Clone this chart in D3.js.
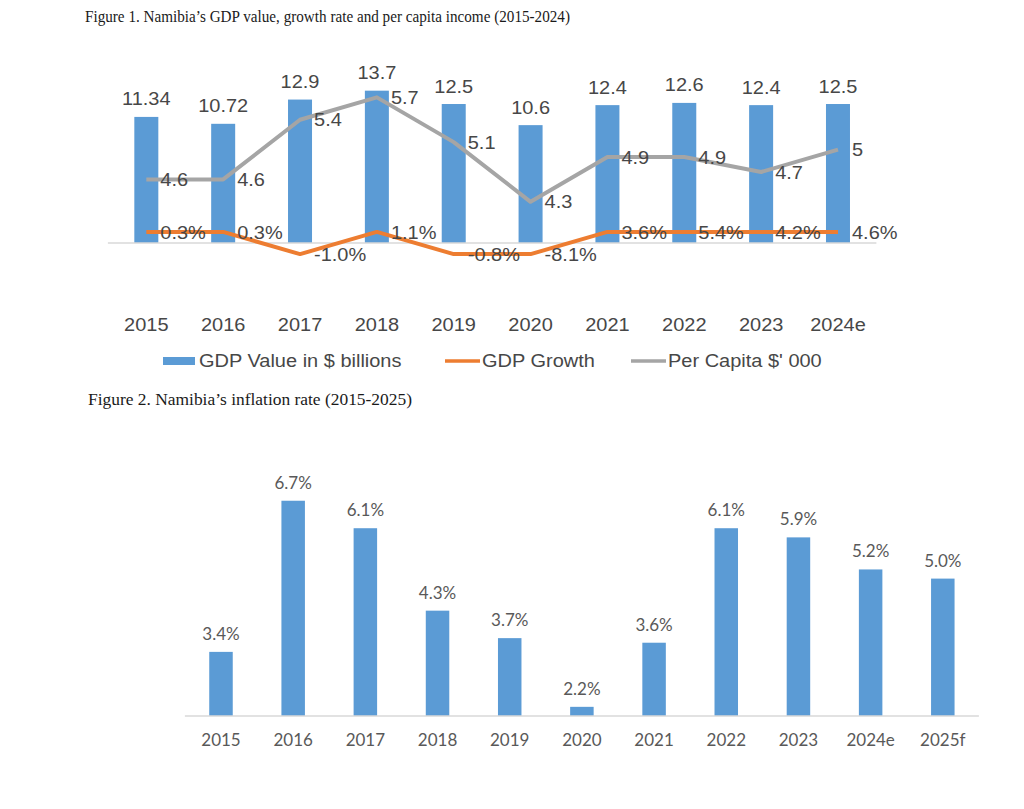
<!DOCTYPE html>
<html>
<head>
<meta charset="utf-8">
<script src="https://cdn.jsdelivr.net/npm/d3@7"></script>
<style>
  body { margin: 0; background: #fff; }
  svg { display: block; }
</style>
</head>
<body>
<svg width="1024" height="809"></svg>
<script>
// figure 1 data
var years1 = ['2015', '2016', '2017', '2018', '2019', '2020', '2021', '2022', '2023', '2024e'];
var gdpValue = [11.34, 10.72, 12.9, 13.7, 12.5, 10.6, 12.4, 12.6, 12.4, 12.5];
var perCapita = [4.6, 4.6, 5.4, 5.7, 5.1, 4.3, 4.9, 4.9, 4.7, 5];
var growthLabel = [0.3, 0.3, -1.0, 1.1, -0.8, -8.1, 3.6, 5.4, 4.2, 4.6];
// where the growth line actually sits in the source (primary axis)
var growthPlot = [1, 1, -1, 1, -1, -1, 1, 1, 1, 1];

// figure 2 data
var years2 = ['2015', '2016', '2017', '2018', '2019', '2020', '2021', '2022', '2023', '2024e', '2025f'];
var inflation = [3.4, 6.7, 6.1, 4.3, 3.7, 2.2, 3.6, 6.1, 5.9, 5.2, 5.0];

var blue = '#5B9BD5', orange = '#ED7D31', grey = '#A5A5A5';

var svg = d3.select('svg');
svg.append('rect').attr('width', 1024).attr('height', 809).attr('fill', '#fff');

// titles
svg.append('text')
    .attr('x', 85).attr('y', 22)
    .attr('font-family', 'Liberation Serif, Times New Roman, serif')
    .attr('font-size', 17)
    .attr('fill', '#1a1a1a')
    .attr('textLength', 485).attr('lengthAdjust', 'spacingAndGlyphs')
    .text('Figure 1. Namibia\u2019s GDP value, growth rate and per capita income (2015-2024)');

svg.append('text')
    .attr('x', 88).attr('y', 405)
    .attr('font-family', 'Liberation Serif, Times New Roman, serif')
    .attr('font-size', 17)
    .attr('fill', '#1a1a1a')
    .attr('textLength', 324).attr('lengthAdjust', 'spacingAndGlyphs')
    .text('Figure 2. Namibia\u2019s inflation rate (2015-2025)');

//////// figure 1
var f1 = svg.append('g')
    .attr('font-family', 'Liberation Sans, Arial, sans-serif')
    .attr('font-size', 18.5)
    .attr('fill', '#474747');

// text in the source is a little wide, stretch it
function wideText(g, x, y, txt, anchor, dy) {
    return g.append('text')
        .attr('transform', 'translate(' + x + ',' + y + ') scale(1.08,1)')
        .attr('text-anchor', anchor)
        .attr('dy', dy || 0)
        .text(txt);
}

var x1 = d3.scaleBand().domain(years1).range([107.9, 876.4]);
var y1 = d3.scaleLinear().domain([0, 16]).range([243, 65.1]);
var y1b = d3.scaleLinear().domain([3, 6]).range([298.8, 75]);
var barW1 = 24;

f1.selectAll('.gdpbar')
    .data(gdpValue)
    .enter()
    .append('rect')
    .attr('class', 'gdpbar')
    .attr('x', function(d, i){ return x1(years1[i]) + x1.bandwidth() / 2 - barW1 / 2; })
    .attr('y', function(d){ return y1(d); })
    .attr('width', barW1)
    .attr('height', function(d){ return y1(0) - y1(d); })
    .attr('fill', blue);

// zero line
f1.append('line')
    .attr('x1', 107.9).attr('x2', 876.4)
    .attr('y1', y1(0)).attr('y2', y1(0))
    .attr('stroke', '#D9D9D9').attr('stroke-width', 1.5);

var cx1 = function(i){ return x1(years1[i]) + x1.bandwidth() / 2; };

var growthLine = d3.line()
    .x(function(d, i){ return cx1(i); })
    .y(function(d){ return y1(d); });

var capitaLine = d3.line()
    .x(function(d, i){ return cx1(i); })
    .y(function(d){ return y1b(d); });

f1.append('path')
    .datum(growthPlot)
    .attr('d', growthLine)
    .attr('fill', 'none')
    .attr('stroke', orange)
    .attr('stroke-width', 4)
    .attr('stroke-linejoin', 'round');

f1.append('path')
    .datum(perCapita)
    .attr('d', capitaLine)
    .attr('fill', 'none')
    .attr('stroke', grey)
    .attr('stroke-width', 4)
    .attr('stroke-linejoin', 'round');

// labels
gdpValue.forEach(function(d, i){
    wideText(f1, cx1(i), y1(d) - 11.5, String(d), 'middle');
});
perCapita.forEach(function(d, i){
    wideText(f1, cx1(i) + 14, y1b(d), String(d), 'start', '0.36em');
});
growthLabel.forEach(function(d, i){
    wideText(f1, cx1(i) + 14, y1(growthPlot[i]), d.toFixed(1) + '%', 'start', '0.36em');
});

// category axis
years1.forEach(function(d, i){
    wideText(f1, cx1(i), 331, d, 'middle');
});

// legend
var lg = f1.append('g');
lg.append('rect').attr('x', 163).attr('y', 357).attr('width', 32).attr('height', 8).attr('fill', blue);
wideText(lg, 199, 367, 'GDP Value in $ billions', 'start');
lg.append('line').attr('x1', 445).attr('x2', 480).attr('y1', 361).attr('y2', 361)
    .attr('stroke', orange).attr('stroke-width', 3.5);
wideText(lg, 482, 367, 'GDP Growth', 'start');
lg.append('line').attr('x1', 631).attr('x2', 666).attr('y1', 361).attr('y2', 361)
    .attr('stroke', grey).attr('stroke-width', 3.5);
wideText(lg, 668, 367, 'Per Capita $\' 000', 'start');

//////// figure 2
var f2 = svg.append('g')
    .attr('font-family', 'Lato, Open Sans, sans-serif')
    .attr('font-size', 17)
    .attr('fill', '#595959');

var x2 = d3.scaleBand().domain(years2).range([184.9, 978.9]);
var y2 = d3.scaleLinear().domain([2, 7]).range([716, 487]);
var barW2 = 23.5;

f2.selectAll('.infbar')
    .data(inflation)
    .enter()
    .append('rect')
    .attr('class', 'infbar')
    .attr('x', function(d, i){ return x2(years2[i]) + x2.bandwidth() / 2 - barW2 / 2; })
    .attr('y', function(d){ return y2(d); })
    .attr('width', barW2)
    .attr('height', function(d){ return y2(2) - y2(d); })
    .attr('fill', blue);

f2.append('line')
    .attr('x1', 184.9).attr('x2', 978.9)
    .attr('y1', y2(2)).attr('y2', y2(2))
    .attr('stroke', '#D9D9D9').attr('stroke-width', 1.5);

f2.selectAll('.inflabel')
    .data(inflation)
    .enter()
    .append('text')
    .attr('class', 'inflabel')
    .attr('x', function(d, i){ return x2(years2[i]) + x2.bandwidth() / 2; })
    .attr('y', function(d){ return y2(d) - 12; })
    .attr('text-anchor', 'middle')
    .text(function(d){ return d.toFixed(1) + '%'; });

var xAxis2 = f2.append('g')
    .attr('transform', 'translate(0,' + y2(2) + ')')
    .call(d3.axisBottom(x2).tickSize(0).tickPadding(18));
xAxis2.select('.domain').remove();
xAxis2.selectAll('text')
    .attr('font-family', 'Lato, Open Sans, sans-serif')
    .attr('font-size', 17)
    .attr('fill', '#595959');
</script>
</body>
</html>
